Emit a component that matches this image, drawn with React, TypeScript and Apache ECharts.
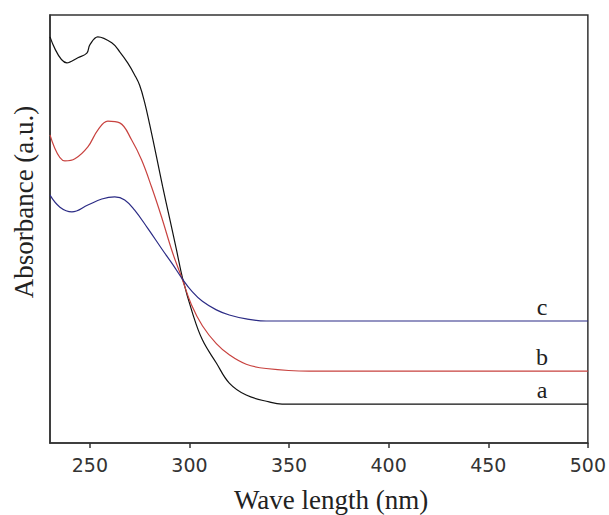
import React, { useEffect, useRef } from "react";
import * as echarts from "echarts";

// Wavelengths (nm) and absorbance (a.u., arbitrary scale 0–100)
const waveA = [230, 238.5, 244, 248.5, 250, 254, 261, 265, 269, 272.5, 275, 277.5, 280, 283.5, 286.5, 290, 293.5, 296.5, 301.5, 306.5, 313.5, 320, 328.5, 340, 346.5, 500];
const absA = [94.9, 88.8, 90.0, 91.1, 93.0, 94.9, 93.5, 91.4, 88.8, 86.0, 83.6, 79.6, 74.5, 66.8, 60.0, 52.6, 45.1, 38.6, 30.4, 24.1, 18.7, 14.0, 11.2, 9.6, 9.1, 9.1];

const waveB = [230, 237.5, 242.5, 249, 254, 259, 265, 271, 276, 281, 286, 291.5, 296, 301, 306.5, 313.5, 320, 328.5, 338.5, 360, 500];
const absB = [72.0, 65.9, 66.4, 69.2, 73.1, 75.2, 74.8, 70.8, 66.1, 59.8, 52.8, 44.5, 38.8, 32.3, 27.4, 23.2, 20.6, 18.4, 17.4, 16.8, 16.8];

const waveC = [230, 235, 241, 249, 256, 262.5, 267.5, 272.5, 279, 286.5, 291.5, 296.5, 301.5, 306.5, 313.5, 320, 328.5, 338.5, 500];
const absC = [57.9, 55.1, 54.0, 55.6, 57.0, 57.5, 56.8, 54.4, 50.2, 45.1, 41.8, 38.3, 35.3, 33.1, 31.1, 29.9, 29.0, 28.5, 28.5];

const xTicks = [250, 300, 350, 400, 450, 500];
const seriesNames = ["a", "b", "c"];
const seriesColors = ["#111111", "#c8423f", "#2b2b85"];
const labelWave = 477;

const pair = (xs: number[], ys: number[]) => xs.map((x, i) => [x, ys[i]]);

export default function App() {
  const ref = useRef<HTMLDivElement>(null);
  useEffect(() => {
    if (!ref.current) return;
    const chart = echarts.init(ref.current, null, { renderer: "svg" });
    const sets = [pair(waveA, absA), pair(waveB, absB), pair(waveC, absC)];
    chart.setOption({
      animation: false,
      backgroundColor: "#ffffff",
      grid: {
        left: 50,
        right: 20,
        top: 15,
        bottom: 72,
        show: true,
        borderColor: "#333333",
        borderWidth: 1.5,
      },
      xAxis: {
        type: "value",
        min: 230,
        max: 500,
        axisLine: { show: true, lineStyle: { color: "#333333", width: 1.5 } },
        axisTick: {
          show: true,
          inside: false,
          length: 5,
          customValues: xTicks,
          lineStyle: { color: "#333333", width: 1.5 },
        },
        axisLabel: {
          customValues: xTicks,
          margin: 12,
          color: "#333333",
          fontFamily: "DejaVu Sans",
          fontSize: 19,
        },
        splitLine: { show: false },
      },
      yAxis: {
        type: "value",
        min: 0,
        max: 100,
        axisLine: { show: true, lineStyle: { color: "#333333", width: 1.5 } },
        axisTick: { show: false },
        axisLabel: { show: false },
        splitLine: { show: false },
      },
      series: sets.map((d, i) => ({
        type: "line",
        name: seriesNames[i],
        data: d,
        showSymbol: false,
        smooth: 0.4,
        lineStyle: { color: seriesColors[i], width: 1.2 },
        markPoint: {
          symbol: "circle",
          symbolSize: 0,
          data: [{ coord: [labelWave, d[d.length - 1][1]] }],
          label: {
            show: true,
            formatter: seriesNames[i],
            position: "top",
            distance: 2,
            color: "#222222",
            fontFamily: "Liberation Serif",
            fontSize: 24,
          },
        },
      })),
      graphic: [
        {
          type: "text",
          x: 331,
          y: 500,
          style: {
            text: "Wave length (nm)",
            fill: "#222222",
            font: '27px "Liberation Serif"',
            textAlign: "center",
            textVerticalAlign: "middle",
          },
        },
        {
          type: "text",
          x: 24,
          y: 202,
          rotation: Math.PI / 2,
          style: {
            text: "Absorbance (a.u.)",
            fill: "#222222",
            font: '27px "Liberation Serif"',
            textAlign: "center",
            textVerticalAlign: "middle",
          },
        },
      ],
    });
    return () => chart.dispose();
  }, []);
  return (
    <div
      ref={ref}
      style={{ position: "fixed", left: 0, top: 0, width: 609, height: 515, background: "#fff" }}
    />
  );
}
